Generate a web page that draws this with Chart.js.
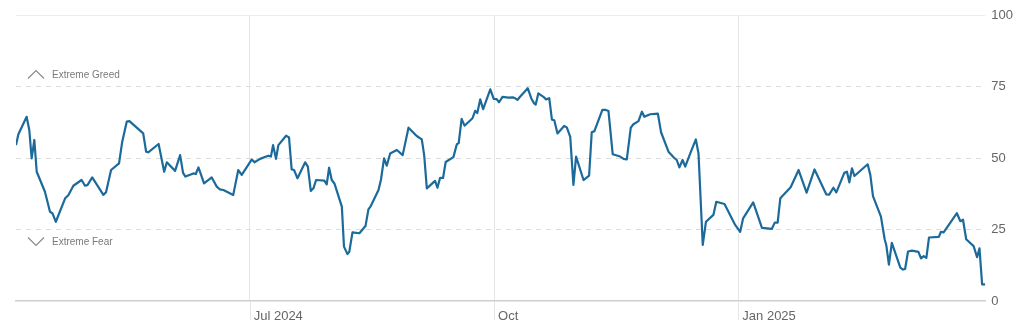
<!DOCTYPE html>
<html>
<head>
<meta charset="utf-8">
<script src="https://cdn.jsdelivr.net/npm/chart.js@4.4.1/dist/chart.umd.min.js"></script>
<style>
html,body{margin:0;padding:0;background:#fff;}
#wrap{width:1024px;height:333px;}
</style>
</head>
<body>
<div id="wrap"><canvas id="c" width="1024" height="333"></canvas></div>
<script>
// Day offsets from 2024-04-04
const days = [0,0.9,4.0,5.0,5.9,6.9,7.8,10.9,12.8,13.7,15.0,18.5,19.7,21.6,24.7,26.0,26.9,28.7,32.9,33.9,35.8,38.8,40.0,41.7,42.7,47.9,49.0,49.8,53.7,55.8,56.8,59.9,61.8,62.9,63.8,66.8,67.7,68.7,69.7,70.8,73.7,75.6,76.8,78.1,81.8,83.7,85.0,88.8,89.8,91.9,95.0,96.0,96.8,97.9,98.8,101.7,102.8,103.8,104.7,106.0,108.9,109.9,111.0,112.0,113.0,116.1,117.0,117.9,118.9,119.9,122.7,123.5,124.8,125.5,126.7,129.3,131.6,132.7,133.6,136.5,137.4,138.6,139.6,140.9,143.4,145.6,147.8,150.9,152.8,153.7,154.7,157.8,158.7,159.7,160.8,161.8,164.7,166.0,166.7,167.8,168.9,171.9,172.9,173.7,174.8,175.9,178.6,179.9,181.0,181.9,183.2,185.4,187.1,187.9,188.8,189.8,192.7,194.0,195.1,195.7,196.7,198.6,199.6,200.8,201.8,202.7,203.9,206.4,207.4,208.7,209.9,210.9,213.7,215.8,216.8,217.8,220.8,222.1,223.1,224.7,227.5,228.8,230.0,231.5,232.5,234.4,235.7,236.6,238.8,241.7,242.9,245.7,247.8,248.8,249.8,251.0,252.0,253.9,256.0,257.0,258.6,259.8,262.6,263.7,266.8,270.8,272.7,273.8,277.6,280.9,284.6,285.7,286.8,287.8,291.7,294.7,297.7,300.7,305.1,306.2,307.8,308.9,311.9,312.9,313.8,314.8,315.7,320.7,321.7,322.7,325.7,327.1,327.7,328.7,329.8,333.0,334.0,334.8,335.9,337.4,339.8,340.8,341.8,342.8,343.8,347.5,348.3,349.3,354.3,355.6,356.6,357.8,360.6,361.9,362.8,363.8,365.0];
const values = [54.5,58.3,64.4,59.8,49.9,56.3,45.2,38.2,31.2,30.7,27.7,35.9,37.0,40.3,42.3,40.3,40.5,43.2,37.1,38.0,45.8,48.1,55.7,62.7,62.9,58.6,52.2,52.0,54.9,45.2,48.5,45.5,51.0,44.8,43.5,44.6,44.4,46.7,44.1,41.1,43.2,40.0,39.0,38.8,37.1,45.8,44.1,49.5,48.5,49.7,50.8,50.5,54.5,49.7,54.5,57.8,57.2,46.0,45.8,42.9,48.5,47.0,38.5,39.4,42.3,42.1,40.8,46.6,42.3,41.1,33.0,19.0,16.4,17.2,24.0,23.7,26.2,32.0,33.2,38.8,42.3,49.9,47.3,51.6,52.8,51.0,60.6,57.7,56.5,51.0,39.4,42.0,39.6,43.1,43.0,48.6,50.3,54.8,55.2,63.7,61.3,63.9,66.5,65.7,70.5,67.1,74.0,70.7,70.6,69.5,71.4,71.1,71.2,70.9,70.3,71.4,74.4,70.9,69.1,68.7,72.6,71.4,70.5,70.9,63.4,63.2,58.6,61.2,60.7,57.4,40.6,50.5,42.3,43.8,59.0,59.4,66.8,66.8,66.4,51.3,50.5,49.7,49.5,60.6,61.8,62.9,66.2,64.4,65.3,65.5,59.0,52.2,50.1,49.3,46.7,49.3,47.0,51.6,56.5,51.6,19.6,27.7,30.1,34.7,33.9,26.6,24.2,28.9,34.5,25.6,25.2,27.4,27.4,35.9,39.8,45.8,37.9,46.0,37.3,37.2,39.6,38.0,44.8,45.2,41.5,46.4,43.7,47.8,44.1,36.7,29.5,21.6,19.6,12.7,20.3,11.7,11.0,11.2,17.3,17.6,17.2,14.9,15.7,15.1,22.2,22.4,24.2,24.0,30.7,27.9,28.4,21.6,19.2,15.3,18.4,5.8,5.8];
const xTickDays = [88, 180, 272];
const xTickLabels = ['Jul 2024', 'Oct', 'Jan 2025'];
const yTicks = [0, 25, 50, 75, 100];
const zoneLabels = [{value: 75, text: 'Extreme Greed', dir: 'up'}, {value: 25, text: 'Extreme Fear', dir: 'down'}];

const FONT = "'Liberation Sans', Arial, Helvetica, sans-serif";

const overlay = {
  id: 'overlay',
  beforeDatasetsDraw(chart) {
    const {ctx, chartArea, scales} = chart;
    const y = scales.y, x = scales.x;
    ctx.save();
    // solid top line at 100
    const yt = Math.round(y.getPixelForValue(100)) + 0.5;
    ctx.strokeStyle = '#ececec';
    ctx.lineWidth = 1;
    ctx.beginPath();
    ctx.moveTo(chartArea.left, yt);
    ctx.lineTo(chartArea.right, yt);
    ctx.stroke();
    // tick extensions below the axis
    ctx.strokeStyle = '#e6e6e6';
    xTickDays.forEach(d => {
      const px = Math.round(x.getPixelForValue(d)) + 0.5;
      ctx.beginPath();
      ctx.moveTo(px, chartArea.bottom);
      ctx.lineTo(px, chartArea.bottom + 19);
      ctx.stroke();
    });
    // zone labels
    ctx.font = '10px ' + FONT;
    ctx.textBaseline = 'middle';
    ctx.textAlign = 'left';
    zoneLabels.forEach(z => {
      const py = y.getPixelForValue(z.value);
      const cy = z.dir === 'up' ? py - 12 : py + 12;
      const cx = 36;
      ctx.strokeStyle = '#8a8a8a';
      ctx.lineWidth = 1.2;
      ctx.beginPath();
      if (z.dir === 'up') {
        ctx.moveTo(cx - 8, cy + 4);
        ctx.lineTo(cx, cy - 4);
        ctx.lineTo(cx + 8, cy + 4);
      } else {
        ctx.moveTo(cx - 8, cy - 4);
        ctx.lineTo(cx, cy + 4);
        ctx.lineTo(cx + 8, cy - 4);
      }
      ctx.stroke();
      ctx.fillStyle = '#7a7a7a';
      ctx.fillText(z.text, 52, cy + 0.5);
    });
    ctx.restore();
  }
};

new Chart(document.getElementById('c'), {
  type: 'line',
  data: {
    datasets: [{
      data: days.map((d, i) => ({x: d, y: values[i]})),
      borderColor: '#1b6a9a',
      borderWidth: 2.2,
      pointRadius: 0,
      tension: 0,
      borderJoinStyle: 'round',
      fill: false
    }]
  },
  options: {
    responsive: false,
    animation: false,
    layout: {padding: {left: 16, right: 5, top: 15, bottom: 0.4}},
    plugins: {legend: {display: false}, tooltip: {enabled: false}},
    scales: {
      x: {
        type: 'linear',
        min: 0,
        max: 365,
        afterBuildTicks: s => { s.ticks = xTickDays.map(v => ({value: v})); },
        ticks: {
          autoSkip: false,
          maxRotation: 0,
          align: 'start',
          labelOffset: 4,
          padding: 8,
          color: '#666',
          font: {family: FONT, size: 13},
          callback: v => { const i = xTickDays.indexOf(v); return i >= 0 ? xTickLabels[i] : ''; }
        },
        grid: {color: '#e6e6e6', lineWidth: 1, drawTicks: false},
        border: {display: true, color: '#cfcfcf', width: 1.5}
      },
      y: {
        position: 'right',
        min: 0,
        max: 100,
        afterBuildTicks: s => { s.ticks = yTicks.map(v => ({value: v})); },
        ticks: {
          padding: 6,
          color: '#666',
          font: {family: FONT, size: 13}
        },
        grid: {
          drawTicks: false,
          color: c => (c.tick && (c.tick.value === 25 || c.tick.value === 50 || c.tick.value === 75)) ? '#dcdcdc' : 'rgba(0,0,0,0)'
        },
        border: {display: false, dash: [5, 5]}
      }
    }
  },
  plugins: [overlay]
});
</script>
</body>
</html>
